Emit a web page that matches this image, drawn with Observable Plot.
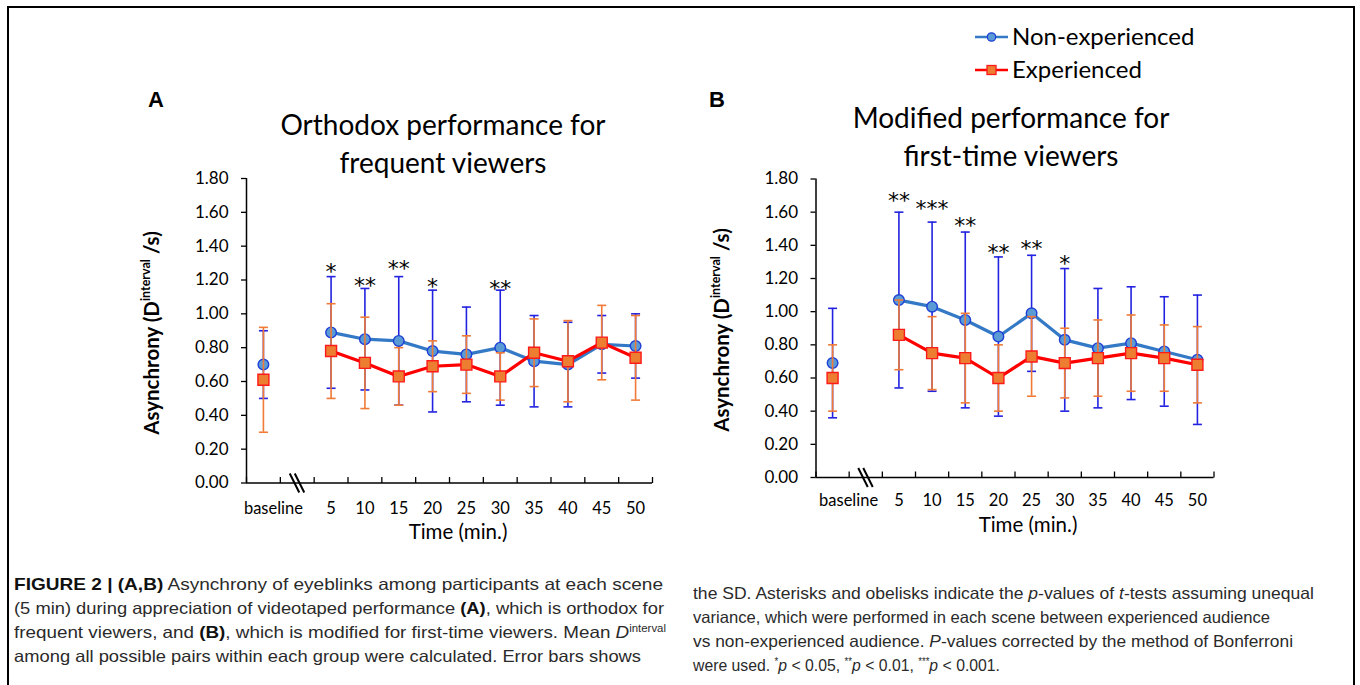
<!DOCTYPE html>
<html>
<head>
<meta charset="utf-8">
<script src="https://cdn.jsdelivr.net/npm/d3@7"></script>
<script src="https://cdn.jsdelivr.net/npm/@observablehq/plot@0.6"></script>
<style>
  html, body { margin: 0; padding: 0; background: #fff; }
  #root { position: relative; width: 1360px; height: 685px; overflow: hidden; font-family: Lato, "Open Sans", sans-serif; color: #000; }
  #frame { position: absolute; left: 7px; top: 6px; width: 1348px; height: 720px; border: 2px solid #000; box-sizing: border-box; }
  .abs { position: absolute; }
  .panelLetter { font-family: "Liberation Sans", Arial, sans-serif; font-weight: bold; font-size: 22px; line-height: 22px; }
  .title { font-family: Lato, sans-serif; font-size: 28px; line-height: 37.5px; text-align: center; width: 500px; white-space: nowrap; }
  .cap { position: absolute; white-space: nowrap; font-family: "Liberation Sans", Arial, sans-serif; font-size: 16.5px; line-height: 20px; color: #2a2a2a; transform-origin: 0 50%; }
  .cap b { font-weight: 700; color: #111; }
  .cap sup { font-size: 10px; line-height: 0; vertical-align: 6px; }
</style>
</head>
<body>
<div id="root">
  <div id="frame"></div>
  <div class="abs panelLetter" style="left:148px; top:89px;">A</div>
  <div class="abs panelLetter" style="left:709px; top:89px;">B</div>
  <div class="abs title" style="left:193px; top:106px;">Orthodox performance for<br>frequent viewers</div>
  <div class="abs title" style="left:761px; top:99px;">Modified performance for<br>first-time viewers</div>
  <div id="legend" class="abs" style="left:960px; top:16px;"></div>
  <div id="panelA" class="abs" style="left:130px; top:160px;"></div>
  <div id="panelB" class="abs" style="left:700px; top:160px;"></div>
  <div id="caption"></div>
</div>
<script>
// ---------------- data ----------------
const timeLabels = ["baseline", "5", "10", "15", "20", "25", "30", "35", "40", "45", "50"];
const yTicks = [0, 0.2, 0.4, 0.6, 0.8, 1.0, 1.2, 1.4, 1.6, 1.8];
const groups = ["Non-experienced", "Experienced"];

// Panel A: orthodox performance for frequent viewers
const aNonMean = [0.70, 0.89, 0.85, 0.84, 0.78, 0.76, 0.80, 0.72, 0.70, 0.82, 0.81];
const aNonSD   = [0.20, 0.33, 0.30, 0.38, 0.36, 0.28, 0.34, 0.27, 0.25, 0.17, 0.19];
const aExpMean = [0.61, 0.78, 0.71, 0.63, 0.69, 0.70, 0.63, 0.77, 0.72, 0.83, 0.74];
const aExpSD   = [0.31, 0.28, 0.27, 0.17, 0.15, 0.17, 0.14, 0.20, 0.24, 0.22, 0.25];
const aSig     = ["", "*", "**", "**", "*", "", "**", "", "", "", ""];
const aSigY    = [null, 1.275, 1.195, 1.293, 1.187, null, 1.179, null, null, null, null];

// Panel B: modified performance for first-time viewers
const bNonMean = [0.69, 1.07, 1.03, 0.95, 0.85, 0.99, 0.83, 0.78, 0.81, 0.76, 0.71];
const bNonSD   = [0.33, 0.53, 0.51, 0.53, 0.48, 0.35, 0.43, 0.36, 0.34, 0.33, 0.39];
const bExpMean = [0.60, 0.86, 0.75, 0.72, 0.60, 0.73, 0.69, 0.72, 0.75, 0.72, 0.68];
const bExpSD   = [0.20, 0.21, 0.22, 0.27, 0.20, 0.24, 0.21, 0.23, 0.23, 0.20, 0.23];
const bSig     = ["", "**", "***", "**", "**", "**", "*", "", "", "", ""];
const bSigY    = [null, 1.695, 1.65, 1.545, 1.385, 1.41, 1.319, null, null, null, null];

// ---------------- styles ----------------
const C = {
  nonLine: "#3479C6", nonFill: "#5B9BD5", nonStroke: "#1E3FD6", nonErr: "#2222E0",
  expLine: "#FF0000", expFill: "#ED7D31", expStroke: "#FF1A1A", expErr: "#F07A36"
};

// slot index: baseline = 0, axis break = 1, 5..50 = 2..11
const slot = i => (i === 0 ? 0 : i + 1);
const slotBounds = d3.range(-0.5, 12, 1);

const capSymbol = { draw(ctx) { ctx.moveTo(-4.5, 0); ctx.lineTo(4.5, 0); } };
const upTick = { draw(ctx) { ctx.moveTo(0, 0); ctx.lineTo(0, -6); } };
const breakSymbol = { draw(ctx) {
  ctx.moveTo(-7.5, -9.5); ctx.lineTo(2, 9.5);
  ctx.moveTo(-2.5, -9.5); ctx.lineTo(7, 9.5);
} };

function rows(means, sds) {
  return timeLabels.map((t, i) => ({ t, i, x: slot(i), mean: means[i], sd: sds[i], lo: means[i] - sds[i], hi: means[i] + sds[i] }));
}

function makePanel(cfg) {
  const non = rows(cfg.nonMean, cfg.nonSD);
  const exp = rows(cfg.expMean, cfg.expSD);
  const sig = timeLabels.map((t, i) => ({ x: slot(i), y: cfg.sigY[i], s: cfg.sig[i] })).filter(d => d.s);
  const lbl = timeLabels.map((t, i) => ({ x: slot(i), t }));
  const err = (data, color) => [
    Plot.ruleX(data, { x: "x", y1: "lo", y2: "hi", stroke: color, strokeWidth: 1.6 }),
    Plot.dot(data, { x: "x", y: "hi", symbol: capSymbol, stroke: color, strokeWidth: 1.6, fill: "none" }),
    Plot.dot(data, { x: "x", y: "lo", symbol: capSymbol, stroke: color, strokeWidth: 1.6, fill: "none" })
  ];
  const plot = Plot.plot({
    width: cfg.width, height: cfg.height,
    marginLeft: cfg.ml, marginRight: cfg.mr, marginTop: cfg.mt, marginBottom: cfg.mb,
    x: { domain: [-0.5, 11.5], axis: null },
    y: { domain: [0, 1.8], axis: null },
    style: { fontFamily: "Lato, sans-serif", color: "#000", background: "transparent", overflow: "visible" },
    marks: [
      Plot.axisY({ ticks: yTicks, tickFormat: d => d.toFixed(2), tickSize: 5, tickPadding: 13, fontSize: 17, label: null, strokeWidth: 1.3 }),
      Plot.ruleX([-0.5], { stroke: "#000", strokeWidth: 1.5 }),
      Plot.ruleY([0], { stroke: "#000", strokeWidth: 1.5 }),
      Plot.dot(slotBounds, { x: d => d, y: 0, symbol: upTick, stroke: "#000", strokeWidth: 1.3, fill: "none" }),
      Plot.dot([1], { x: d => d, y: 0, symbol: breakSymbol, stroke: "#000", strokeWidth: 2, fill: "none" }),
      Plot.text(lbl.filter(d => d.t !== "baseline"), { x: "x", y: 0, text: "t", dy: cfg.labelDy, fontSize: 16.5, lineAnchor: "middle" }),
      Plot.text(lbl.filter(d => d.t === "baseline"), { x: "x", y: 0, text: "t", dy: cfg.labelDy, dx: cfg.baseDx, fontSize: 16.5, lineAnchor: "middle" }),
      // Non-experienced
      ...err(non, C.nonErr),
      Plot.line(non.filter(d => d.i > 0), { x: "x", y: "mean", stroke: C.nonLine, strokeWidth: 3.2 }),
      Plot.dot(non, { x: "x", y: "mean", r: 5.3, fill: C.nonFill, stroke: C.nonStroke, strokeWidth: 1.4 }),
      // Experienced
      ...err(exp, C.expErr),
      Plot.line(exp.filter(d => d.i > 0), { x: "x", y: "mean", stroke: C.expLine, strokeWidth: 3.2 }),
      Plot.dot(exp, { x: "x", y: "mean", r: 6.2, symbol: "square", fill: C.expFill, stroke: C.expStroke, strokeWidth: 1.4 }),
      // significance
      Plot.text(sig, { x: "x", y: "y", text: "s", fontSize: 22, fontFamily: "DejaVu Sans, sans-serif", lineAnchor: "middle", dy: 5, fill: "#000" })
    ]
  });
  const svg = d3.select(plot);
  // y-axis title with superscript
  const yt = svg.append("text")
    .attr("transform", `translate(${cfg.yLabelX},${cfg.yLabelY}) rotate(-90)`)
    .attr("text-anchor", "middle")
    .attr("font-family", "Lato, sans-serif")
    .attr("font-weight", "bold")
    .attr("font-size", 20.5)
    .attr("fill", "#000");
  yt.append("tspan").text("Asynchrony (D");
  yt.append("tspan").attr("font-size", 12.5).attr("dy", -9).text("interval");
  yt.append("tspan").attr("dy", 9).text(" /s)");
  // x-axis title
  svg.append("text")
    .attr("x", cfg.xLabelX).attr("y", cfg.xLabelY)
    .attr("text-anchor", "middle")
    .attr("font-family", "Lato, sans-serif")
    .attr("font-size", 20.5)
    .attr("fill", "#000")
    .text("Time (min.)");
  return plot;
}

document.getElementById("panelA").appendChild(makePanel({
  nonMean: aNonMean, nonSD: aNonSD, expMean: aExpMean, expSD: aExpSD, sig: aSig, sigY: aSigY,
  width: 540, height: 390, ml: 116, mr: 18, mt: 18, mb: 67.5,
  labelDy: 25.5, baseDx: 10, yLabelX: 29, yLabelY: 173, xLabelX: 328, xLabelY: 379
}));
document.getElementById("panelB").appendChild(makePanel({
  nonMean: bNonMean, nonSD: bNonSD, expMean: bExpMean, expSD: bExpSD, sig: bSig, sigY: bSigY,
  width: 540, height: 390, ml: 115.5, mr: 26.5, mt: 18.5, mb: 73,
  labelDy: 23.5, baseDx: 16, yLabelX: 29, yLabelY: 170, xLabelX: 328, xLabelY: 372
}));

// ---------------- legend ----------------
(function legend() {
  const svg = d3.select("#legend").append("svg").attr("width", 270).attr("height", 72);
  const items = [
    { name: groups[0], y: 21, line: C.nonLine, fill: C.nonFill, stroke: C.nonStroke, sym: "circle" },
    { name: groups[1], y: 54, line: C.expLine, fill: C.expFill, stroke: C.expStroke, sym: "square" }
  ];
  const g = svg.selectAll("g").data(items).join("g").attr("transform", d => `translate(0,${d.y})`);
  g.append("line").attr("x1", 15).attr("x2", 48).attr("stroke", d => d.line).attr("stroke-width", 2.5);
  g.filter(d => d.sym === "circle").append("circle").attr("cx", 31.5).attr("r", 4.2).attr("fill", d => d.fill).attr("stroke", d => d.stroke).attr("stroke-width", 1.3);
  g.filter(d => d.sym === "square").append("rect").attr("x", 27).attr("y", -4.5).attr("width", 9).attr("height", 9).attr("fill", d => d.fill).attr("stroke", d => d.stroke).attr("stroke-width", 1.3);
  g.append("text").attr("x", 52).attr("dy", "0.35em").attr("font-family", "Lato, sans-serif").attr("font-size", 24).attr("fill", "#000").text(d => d.name);
})();

// ---------------- caption ----------------
const captionLines = [
  { x: 14, y: 574, w: 649, html: "<b>FIGURE 2 | (A,B)</b> Asynchrony of eyeblinks among participants at each scene" },
  { x: 14, y: 598, w: 650, html: "(5 min) during appreciation of videotaped performance <b>(A)</b>, which is orthodox for" },
  { x: 14, y: 622, w: 652, html: "frequent viewers, and <b>(B)</b>, which is modified for first-time viewers. Mean <i>D</i><sup>interval</sup>" },
  { x: 14, y: 646, w: 627, html: "among all possible pairs within each group were calculated. Error bars shows" },
  { x: 693, y: 583, w: 621, html: "the SD. Asterisks and obelisks indicate the <i>p</i>-values of <i>t</i>-tests assuming unequal" },
  { x: 693, y: 607, w: 577, html: "variance, which were performed in each scene between experienced audience" },
  { x: 693, y: 631, w: 600, html: "vs non-experienced audience. <i>P</i>-values corrected by the method of Bonferroni" },
  { x: 693, y: 655, w: 307, html: "were used. <sup>*</sup><i>p</i> &lt; 0.05, <sup>**</sup><i>p</i> &lt; 0.01, <sup>***</sup><i>p</i> &lt; 0.001." }
];
const capRoot = document.getElementById("caption");
captionLines.forEach(l => {
  const d = document.createElement("div");
  d.className = "cap";
  d.style.left = l.x + "px";
  d.style.top = l.y + "px";
  d.innerHTML = l.html;
  capRoot.appendChild(d);
  const w = d.getBoundingClientRect().width;
  if (w > 0) d.style.transform = `scaleX(${l.w / w})`;
});
</script>
</body>
</html>
